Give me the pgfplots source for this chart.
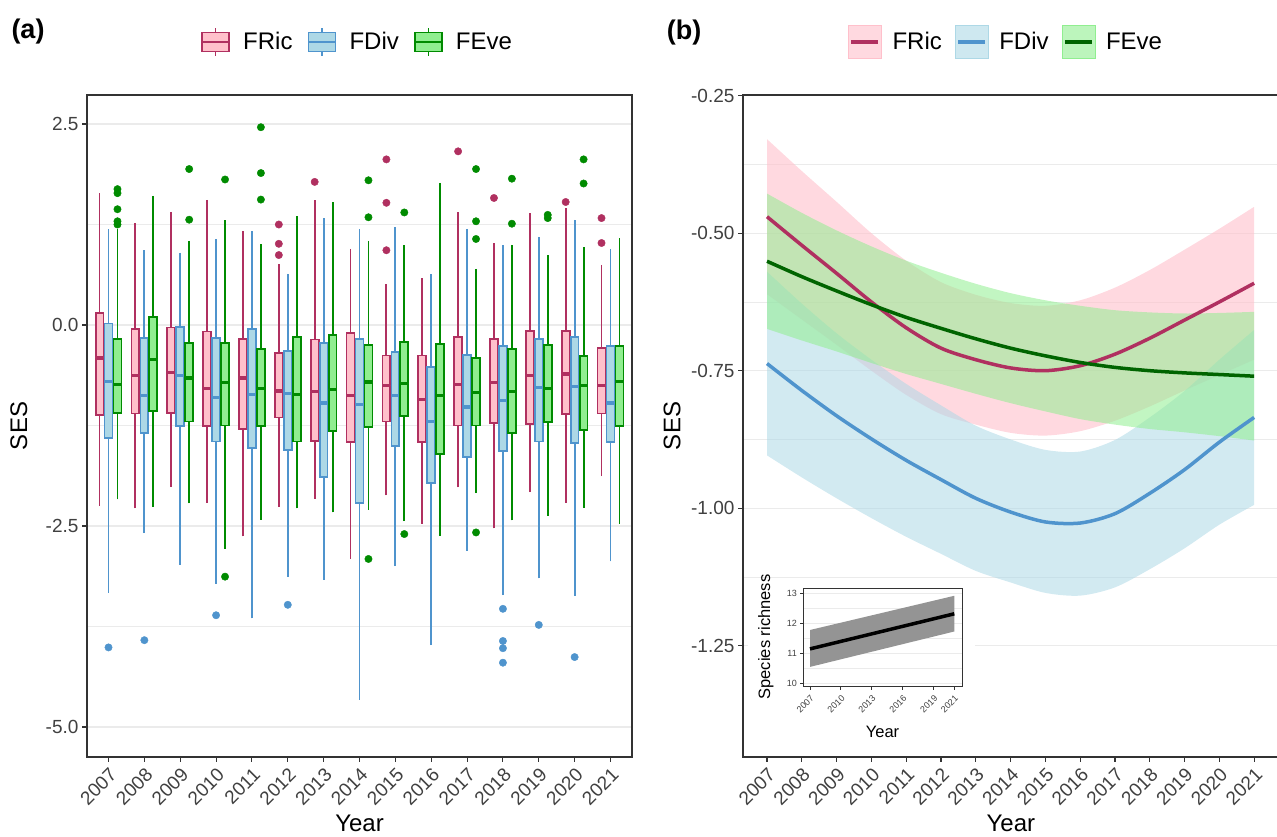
\documentclass[border=0pt]{standalone}
\usepackage{fontspec}
\setmainfont{Liberation Sans}
\usepackage{pgfplots}
\pgfplotsset{compat=1.18}
\usepgfplotslibrary{statistics,fillbetween}
\definecolor{FRicD}{HTML}{B03060}
\definecolor{FRicL}{HTML}{FFC0CB}
\definecolor{FDivD}{HTML}{4F94CD}
\definecolor{FDivL}{HTML}{ADD8E6}
\definecolor{FEveD}{HTML}{008B00}
\definecolor{FEveL}{HTML}{90EE90}
\definecolor{FEveK}{HTML}{006400}
\definecolor{GridC}{HTML}{EBEBEB}
\definecolor{Frame}{HTML}{333333}
\definecolor{TickT}{HTML}{404040}

\pgfplotsset{
  ggbase/.style={scale only axis, anchor=south west,
    axis line style={draw=Frame,line width=1.1pt},
    tick align=outside, tick pos=left, major tick length=5pt, minor tick length=0pt,
    tick style={draw=Frame,line width=1.1pt},
    ymajorgrids, yminorgrids, minor y tick num=1,
    major grid style={draw=GridC,line width=1.1pt},
    minor grid style={draw=GridC,line width=0.55pt},
    tick label style={font=\fontsize{19}{22}\selectfont, text=TickT},
    /pgf/number format/assume math mode=true,
    xtick={0,1,2,3,4,5,6,7,8,9,10,11,12,13,14},
    xticklabels={2007,2008,2009,2010,2011,2012,2013,2014,2015,2016,2017,2018,2019,2020,2021},
    xticklabel style={rotate=45, anchor=north east},
    legend style={draw=none, fill=none, inner sep=0pt, legend columns=3, anchor=west,
      font=\fontsize{24}{28}\selectfont,
      /tikz/every even column/.append style={column sep=11pt},
      /tikz/every odd column/.append style={column sep=9pt}},
    legend cell align=left},
  ggbox/.style={line width=1.8pt,
    boxplot/every box/.style={line width=1.8pt},
    boxplot/every median/.style={line width=3.2pt},
    boxplot/draw/lower whisker/.code={\draw[line width=1.9pt]
      (boxplot box cs:\pgfplotsboxplotvalue{lower whisker},0.5) --
      (boxplot box cs:\pgfplotsboxplotvalue{lower quartile},0.5);},
    boxplot/draw/upper whisker/.code={\draw[line width=1.9pt]
      (boxplot box cs:\pgfplotsboxplotvalue{upper quartile},0.5) --
      (boxplot box cs:\pgfplotsboxplotvalue{upper whisker},0.5);}},
  ric/.style={ggbox, draw=FRicD, fill=FRicL},
  div/.style={ggbox, draw=FDivD, fill=FDivL},
  eve/.style={ggbox, draw=FEveD, fill=FEveL},
  out/.style={only marks, mark=*, mark size=3.7pt, draw=#1, fill=#1},
  boxkey/.style 2 args={legend image code/.code={
    \path[draw=none,fill=none] (0pt,-16.5pt) rectangle (33pt,16.5pt);
    \draw[#1,line width=1.5pt,fill=#2] (3pt,-9.5pt) rectangle (30pt,9.5pt);
    \draw[#1,line width=1.5pt] (3pt,0pt) -- (30pt,0pt) (16.5pt,9.5pt) -- (16.5pt,14pt) (16.5pt,-9.5pt) -- (16.5pt,-14pt);}},
  bandkey/.style 2 args={legend image code/.code={
    \fill[#2, fill opacity=0.6] (0pt,-16.5pt) rectangle (33pt,16.5pt);
    \draw[#1,line width=3.5pt] (3pt,0pt) -- (30pt,0pt);}}
}
% one box: style, position, lower whisker, lower quartile, median, upper quartile, upper whisker
\newcommand{\bx}[7]{\addplot[#1, boxplot prepared={draw position=#2, lower whisker=#3,
  lower quartile=#4, median=#5, upper quartile=#6, upper whisker=#7}] coordinates {};}

\begin{document}
\begin{tikzpicture}[x=1pt,y=1pt]
% ---------------- panel (a)
\begin{axis}[ggbase, at={(87pt,80pt)}, width=545pt, height=662pt,
  xmin=-0.6, xmax=14.6, ymin=-5.373, ymax=2.861,
  ytick={-5,-2.5,0,2.5},
  yticklabel style={/pgf/number format/.cd,fixed,fixed zerofill,precision=1},
  xlabel={Year}, ylabel={SES},
  every axis x label/.style={at={(axis description cs:0.5,-0.101)},anchor=center,font=\fontsize{24}{28}\selectfont},
  every axis y label/.style={at={(axis description cs:-0.125,0.5)},rotate=90,anchor=center,font=\fontsize{24}{28}\selectfont},
  legend style={at={(axis description cs:0.2055,1.0801)}},
  boxplot/draw direction=y, boxplot/box extend=0.22]
\addlegendimage{boxkey={FRicD}{FRicL}}\addlegendentry{FRic}
\addlegendimage{boxkey={FDivD}{FDivL}}\addlegendentry{FDiv}
\addlegendimage{boxkey={FEveD}{FEveL}}\addlegendentry{FEve}
% FRic
\bx{ric}{-0.25}{-2.25}{-1.12}{-0.41}{0.15}{1.64}
\bx{ric}{0.75}{-2.28}{-1.10}{-0.63}{-0.05}{1.27}
\bx{ric}{1.75}{-2.01}{-1.09}{-0.59}{-0.03}{1.41}
\bx{ric}{2.75}{-2.21}{-1.26}{-0.79}{-0.08}{1.56}
\bx{ric}{3.75}{-2.63}{-1.29}{-0.66}{-0.17}{1.17}
\bx{ric}{4.75}{-2.26}{-1.15}{-0.82}{-0.35}{0.76}
\bx{ric}{5.75}{-2.16}{-1.44}{-0.83}{-0.18}{1.55}
\bx{ric}{6.75}{-2.91}{-1.46}{-0.88}{-0.10}{0.95}
\bx{ric}{7.75}{-2.12}{-1.20}{-0.75}{-0.38}{0.51}
\bx{ric}{8.75}{-2.47}{-1.46}{-0.93}{-0.38}{0.58}
\bx{ric}{9.75}{-2.02}{-1.25}{-0.74}{-0.15}{1.40}
\bx{ric}{10.75}{-2.53}{-1.22}{-0.72}{-0.17}{1.02}
\bx{ric}{11.75}{-2.08}{-1.23}{-0.63}{-0.07}{1.39}
\bx{ric}{12.75}{-2.21}{-1.11}{-0.61}{-0.07}{1.45}
\bx{ric}{13.75}{-1.88}{-1.10}{-0.75}{-0.29}{0.75}
% FDiv
\bx{div}{0}{-3.33}{-1.41}{-0.70}{0.02}{1.19}
\bx{div}{1}{-2.59}{-1.34}{-0.88}{-0.16}{0.93}
\bx{div}{2}{-2.98}{-1.26}{-0.63}{-0.02}{0.90}
\bx{div}{3}{-3.22}{-1.45}{-0.90}{-0.16}{1.07}
\bx{div}{4}{-3.65}{-1.53}{-0.86}{-0.05}{1.17}
\bx{div}{5}{-3.13}{-1.55}{-0.85}{-0.32}{0.64}
\bx{div}{6}{-3.17}{-1.89}{-0.97}{-0.22}{1.33}
\bx{div}{7}{-4.66}{-2.21}{-0.99}{-0.17}{1.19}
\bx{div}{8}{-3.00}{-1.50}{-0.88}{-0.34}{1.22}
\bx{div}{9}{-3.98}{-1.97}{-1.20}{-0.52}{0.63}
\bx{div}{10}{-2.81}{-1.64}{-1.02}{-0.37}{1.20}
\bx{div}{11}{-3.36}{-1.57}{-0.94}{-0.26}{0.99}
\bx{div}{12}{-3.15}{-1.45}{-0.78}{-0.17}{1.10}
\bx{div}{13}{-3.37}{-1.47}{-0.76}{-0.15}{1.31}
\bx{div}{14}{-2.94}{-1.46}{-0.97}{-0.26}{0.94}
% FEve
\bx{eve}{0.25}{-2.17}{-1.09}{-0.74}{-0.17}{1.20}
\bx{eve}{1.25}{-2.26}{-1.07}{-0.43}{0.10}{1.61}
\bx{eve}{2.25}{-2.22}{-1.20}{-0.66}{-0.22}{1.05}
\bx{eve}{3.25}{-2.78}{-1.25}{-0.72}{-0.22}{1.30}
\bx{eve}{4.25}{-2.42}{-1.26}{-0.79}{-0.30}{1.01}
\bx{eve}{5.25}{-2.28}{-1.45}{-0.86}{-0.15}{1.35}
\bx{eve}{6.25}{-2.33}{-1.32}{-0.80}{-0.12}{1.53}
\bx{eve}{7.25}{-2.30}{-1.27}{-0.71}{-0.25}{1.05}
\bx{eve}{8.25}{-2.44}{-1.13}{-0.73}{-0.21}{0.99}
\bx{eve}{9.25}{-2.62}{-1.60}{-0.88}{-0.24}{1.77}
\bx{eve}{10.25}{-2.09}{-1.25}{-0.84}{-0.41}{0.70}
\bx{eve}{11.25}{-2.43}{-1.34}{-0.83}{-0.30}{1.00}
\bx{eve}{12.25}{-2.37}{-1.21}{-0.79}{-0.25}{0.87}
\bx{eve}{13.25}{-2.27}{-1.31}{-0.75}{-0.39}{0.97}
\bx{eve}{14.25}{-2.47}{-1.26}{-0.70}{-0.26}{1.08}
% outliers
\addplot[out=FRicD] coordinates {(4.75,0.87) (4.75,1.01) (4.75,1.25) (5.75,1.78)
  (7.75,0.93) (7.75,1.52) (7.75,2.06) (9.75,2.16) (10.75,1.58) (12.75,1.53)
  (13.75,1.02) (13.75,1.33)};
\addplot[out=FDivD] coordinates {(0,-4.01) (1,-3.92) (3,-3.61) (5,-3.48)
  (11,-3.53) (11,-3.93) (11,-4.02) (11,-4.20) (12,-3.73) (13,-4.13)};
\addplot[out=FEveD] coordinates {(0.25,1.25) (0.25,1.29) (0.25,1.44) (0.25,1.64) (0.25,1.69)
  (2.25,1.31) (2.25,1.94) (3.25,1.81) (3.25,-3.13) (4.25,1.56) (4.25,1.89) (4.25,2.46)
  (7.25,1.34) (7.25,1.80) (7.25,-2.91) (8.25,1.40) (8.25,-2.60)
  (10.25,1.07) (10.25,1.29) (10.25,1.94) (10.25,-2.58) (11.25,1.26) (11.25,1.82)
  (12.25,1.33) (12.25,1.37) (13.25,1.76) (13.25,2.06)};
\end{axis}
\node[font=\bfseries\fontsize{27}{30}\selectfont] at (28pt,805pt) {(a)};

% ---------------- panel (b)
\begin{axis}[ggbase, at={(743pt,80pt)}, width=540pt, height=662pt,
  xmin=-0.69, xmax=14.83, ymin=-1.4524, ymax=-0.2487,
  ytick={-1.25,-1,-0.75,-0.5,-0.25},
  yticklabel style={/pgf/number format/.cd,fixed,fixed zerofill,precision=2},
  xlabel={Year}, ylabel={SES},
  every axis x label/.style={at={(axis description cs:0.496,-0.101)},anchor=center,font=\fontsize{24}{28}\selectfont},
  every axis y label/.style={at={(axis description cs:-0.1315,0.5)},rotate=90,anchor=center,font=\fontsize{24}{28}\selectfont},
  legend style={at={(axis description cs:0.1944,1.0801)}}]
\addlegendimage{bandkey={FRicD}{FRicL}}\addlegendentry{FRic}
\addlegendimage{bandkey={FDivD}{FDivL}}\addlegendentry{FDiv}
\addlegendimage{bandkey={FEveK}{FEveL}}\addlegendentry{FEve}
% FRic band
\addplot[name path=ricU, draw=none, smooth] coordinates {(0,-0.329) (1,-0.387) (2,-0.443) (3,-0.500)
  (4,-0.550) (5,-0.589) (6,-0.612) (7,-0.627) (8,-0.632) (9,-0.622) (10,-0.599) (11,-0.567)
  (12,-0.530) (13,-0.492) (14,-0.452)};
\addplot[name path=ricL, draw=none, smooth] coordinates {(0,-0.611) (1,-0.657) (2,-0.703) (3,-0.750)
  (4,-0.794) (5,-0.829) (6,-0.848) (7,-0.863) (8,-0.868) (9,-0.860) (10,-0.841) (11,-0.815)
  (12,-0.786) (13,-0.758) (14,-0.730)};
\addplot[fill=FRicL, fill opacity=0.6, draw=none] fill between[of=ricU and ricL];
% FDiv band
\addplot[name path=divU, draw=none, smooth] coordinates {(0,-0.570) (1,-0.628) (2,-0.682) (3,-0.730)
  (4,-0.774) (5,-0.813) (6,-0.850) (7,-0.875) (8,-0.894) (9,-0.897) (10,-0.876) (11,-0.835)
  (12,-0.787) (13,-0.730) (14,-0.676)};
\addplot[name path=divL, draw=none, smooth] coordinates {(0,-0.904) (1,-0.944) (2,-0.982) (3,-1.018)
  (4,-1.052) (5,-1.083) (6,-1.114) (7,-1.135) (8,-1.154) (9,-1.159) (10,-1.144) (11,-1.111)
  (12,-1.073) (13,-1.030) (14,-0.994)};
\addplot[fill=FDivL, fill opacity=0.55, draw=none] fill between[of=divU and divL];
% FEve band
\addplot[name path=eveU, draw=none, smooth] coordinates {(0,-0.428) (1,-0.463) (2,-0.495) (3,-0.524)
  (4,-0.550) (5,-0.572) (6,-0.592) (7,-0.609) (8,-0.622) (9,-0.632) (10,-0.640) (11,-0.644)
  (12,-0.646) (13,-0.645) (14,-0.643)};
\addplot[name path=eveL, draw=none, smooth] coordinates {(0,-0.674) (1,-0.695) (2,-0.715) (3,-0.736)
  (4,-0.756) (5,-0.774) (6,-0.792) (7,-0.809) (8,-0.824) (9,-0.838) (10,-0.848) (11,-0.856)
  (12,-0.862) (13,-0.869) (14,-0.877)};
\addplot[fill=FEveL, fill opacity=0.55, draw=none] fill between[of=eveU and eveL];
% fitted lines
\addplot[FRicD, line width=3.5pt, smooth] coordinates {(0,-0.470) (1,-0.522) (2,-0.573) (3,-0.625)
  (4,-0.672) (5,-0.709) (6,-0.730) (7,-0.745) (8,-0.750) (9,-0.741) (10,-0.720) (11,-0.691)
  (12,-0.658) (13,-0.625) (14,-0.591)};
\addplot[FDivD, line width=3.5pt, smooth] coordinates {(0,-0.737) (1,-0.786) (2,-0.832) (3,-0.874)
  (4,-0.913) (5,-0.948) (6,-0.982) (7,-1.007) (8,-1.025) (9,-1.027) (10,-1.010) (11,-0.973)
  (12,-0.930) (13,-0.880) (14,-0.835)};
\addplot[FEveK, line width=3.5pt, smooth] coordinates {(0,-0.551) (1,-0.579) (2,-0.605) (3,-0.630)
  (4,-0.653) (5,-0.673) (6,-0.692) (7,-0.709) (8,-0.723) (9,-0.735) (10,-0.744) (11,-0.750)
  (12,-0.754) (13,-0.757) (14,-0.760)};
\end{axis}
\node[font=\bfseries\fontsize{27}{30}\selectfont] at (684pt,804pt) {(b)};

% ---------------- inset
\fill[white] (748pt,85pt) rectangle (975pt,257pt);
\begin{axis}[scale only axis, anchor=south west, at={(803.3pt,150.3pt)}, width=159pt, height=98.4pt,
  xmin=2006.35, xmax=2021.78, ymin=9.89, ymax=13.17,
  xtick={2007,2010,2013,2016,2019,2021}, ytick={10,11,12,13},
  minor y tick num=1, ymajorgrids, yminorgrids,
  major grid style={draw=GridC,line width=0.8pt}, minor grid style={draw=GridC,line width=0.4pt},
  axis line style={draw=Frame,line width=0.9pt},
  tick align=outside, tick pos=left, major tick length=3pt, minor tick length=0pt,
  tick style={draw=Frame,line width=0.9pt},
  tick label style={font=\fontsize{9}{10}\selectfont, text=TickT},
  /pgf/number format/assume math mode=true, /pgf/number format/1000 sep={},
  xticklabel style={rotate=45, anchor=north east},
  xlabel={Year}, ylabel={Species richness},
  every axis y label/.style={at={(axis description cs:-0.235,0.505)},rotate=90,anchor=center,font=\fontsize{16.5}{19}\selectfont},
  every axis x label/.style={at={(axis description cs:0.498,-0.46)},anchor=center,font=\fontsize{16.5}{19}\selectfont}]
\addplot[fill=black!42, draw=none] coordinates {(2007,11.78) (2021,12.92) (2021,11.73) (2007,10.55)} -- cycle;
\addplot[black, line width=3.5pt] coordinates {(2007,11.15) (2021,12.32)};
\end{axis}

\pgfresetboundingbox
\useasboundingbox (0pt,0pt) rectangle (1277pt,837pt);
\end{tikzpicture}
\end{document}
